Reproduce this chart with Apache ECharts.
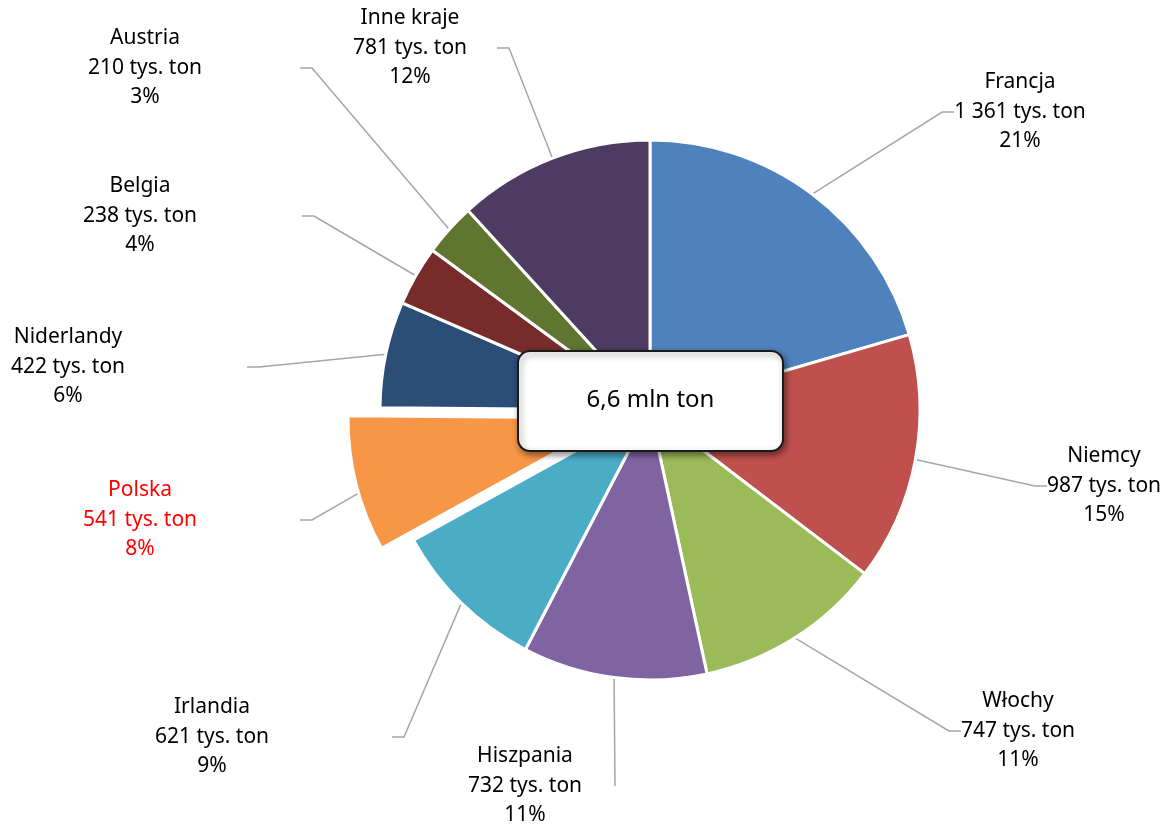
<!DOCTYPE html>
<html>
<head>
<meta charset="utf-8">
<script src="https://cdn.jsdelivr.net/npm/echarts@6/dist/echarts.min.js"></script>
<style>
  html, body { margin: 0; padding: 0; background: #ffffff; }
  #chart { width: 1165px; height: 825px; }
</style>
</head>
<body>
<div id="chart"></div>
<script>
// ---- data ----
const countries = ['Francja', 'Niemcy', 'Włochy', 'Hiszpania', 'Irlandia', 'Polska', 'Niderlandy', 'Belgia', 'Austria', 'Inne kraje'];
const values = [1361, 987, 747, 732, 621, 541, 422, 238, 210, 781];
const colors = ['#4F81BD', '#C0504D', '#9BBB59', '#8064A2', '#4BACC6', '#F79646', '#2C4D75', '#772C2A', '#5F7530', '#4D3B62'];
const totalLabel = '6,6 mln ton';
const highlighted = 'Polska';

// label placement (styling only): box centre x, y, box width / height, leader tail length
const labelX = [1020, 1104, 1018, 525, 212, 140, 68, 140, 145, 410];
const labelY = [112, 486, 731, 786, 737, 520, 367, 216, 68, 48];
const labelW = [null, null, null, 180, 360, 320, 358, 324, 310, 174];
const labelH = [null, null, null, 10, null, null, null, null, null, null];
const tailLen = [12, 12, 12, 0, 12, 12, 12, 12, 12, 12];

const fmt = v => String(v).replace(/\B(?=(\d{3})+(?!\d))/g, ' ');

const chart = echarts.init(document.getElementById('chart'), null, { renderer: 'canvas' });

const TRANSPARENT = 'rgba(0,0,0,0)';

// main series: every slice except the exploded one, plus all labels
const mainData = countries.map((name, i) => {
  const isHi = name === highlighted;
  const item = {
    name: name,
    value: values[i],
    itemStyle: isHi
      ? { color: TRANSPARENT, borderWidth: 0 }
      : { color: colors[i] },
    labelLine: { length2: tailLen[i] }
  };
  if (isHi) item.label = { color: '#FF0000' };
  return item;
});

// exploded series: only the highlighted slice is visible
const explodedData = countries.map((name, i) => {
  const isHi = name === highlighted;
  return {
    name: name,
    value: values[i],
    selected: isHi,
    itemStyle: isHi
      ? { color: colors[i] }
      : { color: TRANSPARENT, borderWidth: 0 }
  };
});

const common = {
  type: 'pie',
  center: [650, 410],
  radius: 270,
  startAngle: 90,
  clockwise: true,
  percentPrecision: 0,
  avoidLabelOverlap: false,
  emphasis: { disabled: true },
  itemStyle: { borderColor: '#ffffff', borderWidth: 3 }
};

chart.setOption({
  animation: false,
  backgroundColor: '#ffffff',
  series: [
    Object.assign({}, common, {
      selectedMode: false,
      label: {
        show: true,
        position: 'outside',
        color: '#000000',
        fontFamily: 'Noto Sans',
        fontSize: 21,
        lineHeight: 29.5,
        align: 'center',
        formatter: p => p.name + '\n' + fmt(p.value) + ' tys. ton\n' + p.percent + '%'
      },
      labelLine: {
        show: true,
        length: 40,
        length2: 12,
        lineStyle: { color: '#A6A6A6', width: 1.5 }
      },
      labelLayout: function (params) {
        const i = params.dataIndex;
        const out = {
          x: labelX[i],
          y: labelY[i],
          align: 'center',
          verticalAlign: 'middle',
          hideOverlap: false
        };
        if (labelW[i] != null) out.width = labelW[i];
        if (labelH[i] != null) out.height = labelH[i];
        return out;
      },
      data: mainData
    }),
    Object.assign({}, common, {
      silent: true,
      selectedMode: 'single',
      selectedOffset: 33,
      label: { show: false },
      labelLine: { show: false },
      data: explodedData
    })
  ],
  graphic: [{
    type: 'group',
    left: 517,
    top: 350,
    z: 100,
    children: [{
      type: 'rect',
      z: 100,
      shape: { x: 0, y: 0, width: 265, height: 100, r: 12 },
      style: {
        fill: '#ffffff',
        stroke: '#1a1a1a',
        lineWidth: 2,
        shadowBlur: 6,
        shadowOffsetX: 2,
        shadowOffsetY: 3,
        shadowColor: 'rgba(0,0,0,0.45)'
      }
    }, {
      type: 'text',
      z: 101,
      x: 132.5,
      y: 49,
      style: {
        text: totalLabel,
        fill: '#000000',
        font: '24px "Noto Sans"',
        align: 'center',
        verticalAlign: 'middle'
      }
    }]
  }]
});
</script>
</body>
</html>
